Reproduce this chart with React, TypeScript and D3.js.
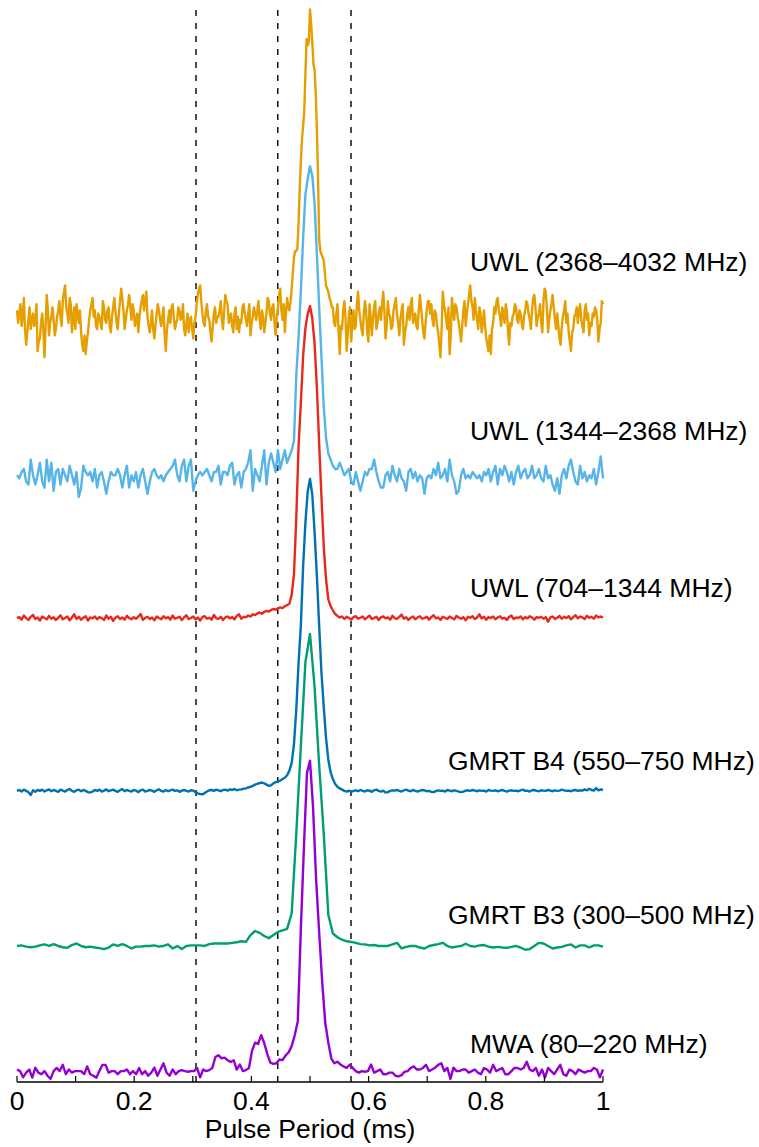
import React from "react";
import * as d3 from "d3";

const W = 759;
const H = 1147;

// Profile values, in percent of each profile's peak
const uwlHighVals = [
  2, -2, 1, 4, -3, 0, 6, -4, -9, -5, -1, 3, -4, -1, 1, -3, -1, 4, -11, -8,
  -7, -2, 1, -4, -13, -3, 7, 2, -6, -2, 0, 3, -1, -6, -4, 0, 2, 5, 0, -3,
  5, 8, 10, 3, 1, -2, 6, 4, -5, -1, 3, -4, 4, 1, -2, 2, -5, -9, -11, -6,
  -12, -8, -5, -1, 2, 4, 6, 0, 2, -3, -4, 1, 0, -2, -4, 5, 3, -1, -2, 2,
  3, -3, -5, 0, 3, 6, 2, -2, -4, 1, 5, 9, 6, 2, -4, -1, 2, 4, 7, 3,
  -1, 4, 2, -3, -1, 1, -5, 0, 3, 5, 7, 2, 5, 8, 0, -3, -5, -2, 2, -4,
  -7, -3, 1, 4, 2, -1, -3, 0, 3, -6, -11, -4, -1, 2, -2, 3, 4, 0, -4, -2,
  -1, 3, 2, -1, 0, 4, -4, -6, -2, 1, -5, -1, 0, -4, -7, -2, 0, 4, 7, 9,
  10, 5, 1, -2, -3, 2, 4, 0, -1, -5, -8, -3, 1, 3, -2, 0, 0, 2, 5, -1,
  -4, 2, 7, 5, 4, -2, -1, 1, -3, -5, 1, 3, -4, 0, -5, -1, -2, 3, 4, 1,
  -1, -3, 1, 4, -6, -2, 0, 3, 1, -1, 2, 5, -1, -4, 2, 0, -5, -2, 1, 6,
  5, 1, -1, 3, 4, -2, -6, 0, 3, 7, 9, 2, -1, 4, -5, 1, 6, 3, 2, 5,
  9, 14, 19, 21, 21, 22, 30, 41, 50, 57, 61, 66, 78, 89, 87, 88, 98.5, 94, 88, 81,
  79, 72, 60, 45, 25, 21, 20, 19, 18, 14, 10, 9, 8, 6, 5, 3, 3, -2, -3, 1,
  4, -5, -12, -3, -4, 2, 5, 0, -11, -6, 1, 3, -8, -2, 2, -4, -3, 4, 8, 2,
  -1, -4, -6, 1, 5, 2, -5, -8, 4, 0, -6, -1, 3, 5, -4, -2, 1, 3, -1, 4,
  8, 2, -7, -3, 5, 1, 0, -4, -3, 2, 4, 6, 1, -2, -6, -1, 2, 4, -9, -5,
  -3, 1, 3, -1, 4, 6, -2, 0, 1, -3, -4, 2, 7, 3, -1, -5, -7, -2, 2, 5,
  5, 1, 4, -1, -3, 2, 1, -3, -5, -9, -13, -4, 8, 4, 2, -1, -4, 3, -12, -6,
  6, 2, -1, 4, 3, 0, -2, -5, -8, -3, 2, 5, -3, 1, 4, 7, 10, 5, 3, -1,
  6, 2, -1, -4, 3, 1, -5, -2, 2, -3, -7, -9, -11, -6, -12, -4, -2, 3, 1, 5,
  6, 2, 0, -3, 3, 1, -2, 4, 2, -5, -9, -2, -3, 0, 1, 4, 3, -1, -2, 2,
  1, -2, -4, 0, 2, 5, 4, 1, -1, -4, 2, 6, 7, 3, -3, 0, 1, 4, -2, -5,
  5, 9, 8, 2, -5, -1, 2, 4, 7, 3, -1, -4, 1, -3, -7, -9, -3, 0, 2, 5,
  -2, 1, -5, -8, -11, -5, -4, 0, 1, 3, -2, 2, 4, -1, -3, -5, 2, 4, -1, 1,
  -6, -2, -3, 1, 0, 3, 2, -1, -8, -4, -2, 5,
  4,
];

const uwlMidVals = [
  1, 0, 2, 3, -1, -2, 6, 1, -2, 1,
  5, -1, -3, 6, -1, 5, -4, 2, 3, -2,
  3, 1, -1, 4, 1, -2, 2, -6, -3, 4,
  2, 1, 2, -1, 3, -3, 1, 2, -1, -5,
  -1, 2, 1, 1, 3, 1, -3, 1, 4, -3,
  1, -1, 2, -3, 1, 3, -1, -5, -1, 2,
  3, 1, 0, 1, -1, 1, 2, 3, 4, 6,
  1, -1, 4, 6, -1, 4, 6, -4, -1, 1,
  2, 1, 2, 3, 1, -1, 2, 2, 4, -2,
  2, 2, 1, 4, 5, -2, 1, 2, -3, 2,
  3, 5, 9, -4, 3, 1, -1, 4, 9, -2,
  5, 8, 5, 2, 9, 3, 6, 9, 5, 7,
  9, 12, 33, 45, 60, 77, 91, 96, 100, 97,
  88, 72, 55, 39, 23, 13, 8, 6, 4, 3,
  3, 5, 3, 1, 2, 3, -1, -2, 2, -1,
  -4, -1, 2, 1, 3, 3, 6, 2, -1, -3,
  -3, 1, 2, -1, 4, 1, -1, 3, 0, -1,
  -4, 2, 3, 0, 2, -1, 1, 0, -5, 0,
  1, 0, 3, 1, 5, 0, 1, 3, -1, 6,
  1, -1, -5, -4, 1, 3, 0, 1, 0, 2,
  1, 0, 1, -1, 2, 1, 3, -1, 2, 4,
  -2, 3, 1, 4, 2, -1, 2, -2, 2, 4,
  0, 2, 3, 0, 1, 4, 0, 1, 3, 0,
  -1, 4, 0, 1, -2, -4, 0, -5, 1, 3,
  0, 4, 6, 2, -1, -2, 4, 0, 2, -1,
  1, 0, 3, -2, 2, 7, 0,
];

const uwlLowVals = [
  0, 0.3, -0.5, 0.8, 0, -0.6, 0.4, 1, -0.3, 0.2,
  -0.8, 0.5, 0, -0.4, 0.7, -0.2, 0.3, -0.6, 0.1, 0.9,
  -0.4, 0, 0.5, -0.7, 0.2, 1.2, -0.3, 0.4, -0.5, 0.1,
  0.6, -0.8, 0.2, -0.1, 0.5, -0.4, 0.3, 0, -0.6, 0.8,
  -0.2, 0.4, -0.9, 0.1, 0.6, -0.3, 0.2, -0.5, 0.7, 0,
  -0.4, 0.3, -0.2, 0.5, 1.3, -0.6, 0.1, 0.4, -0.3, 0.2,
  -0.7, 0.5, 0, -0.4, 0.6, -0.1, 0.3, -0.5, 0.8, -0.2,
  0.1, 0.4, -0.6, 0.2, 0.9, -0.3, 0, 0.5, -0.4, 0.2,
  -0.8, 0.3, 0.6, -0.2, 0.1, -0.5, 1, 0, -0.3, 0.4,
  -0.6, 0.2, 0.5, -0.1, 0.3, -0.4, 0.7, 1.2, -0.2, 0.4,
  0.3, 0.8, 0.5, 1.2, 1.0, 1.5, 1.8, 1.4, 2.0, 2.3,
  2.1, 2.6, 2.9, 2.7, 3.1, 3.4, 3.2, 3.8, 4.2, 4.6,
  7.5, 14, 32, 55, 69, 84, 93, 97.5, 100, 96,
  88, 74, 56, 39, 23, 12.5, 6, 3.8, 2.5, 1.3,
  0.7, 0.2, 0.5, -0.3, 0.4, 0, -0.5, 0.3, 0.6, -0.2,
  0.1, 0.5, -0.4, 0.2, 0.8, -0.3, 0, 0.4, -0.6, 0.3,
  0.5, -0.1, 0.2, -0.5, 0.7, 0, -0.3, 0.4, 1.1, -0.2,
  0.3, -0.6, 0.1, 0.5, -0.4, 0.2, 0.6, -0.2, 0, 0.4,
  -0.5, 0.3, 0.9, -0.1, 0.2, -0.6, 0.4, 0.1, -0.3, 0.5,
  0, -0.4, 0.7, 0.2, -0.2, 0.3, -0.7, 0.4, 0.1, 0.6,
  -0.3, 0.2, 1.2, -0.1, 0.4, -0.5, 0.3, 0, 0.5, -0.4,
  0.2, 0.6, -0.2, 0.1, -0.6, 0.4, 0.8, -0.3, 0.2, 0,
  0.5, -0.4, 0.3, -0.1, 0.6, 0.2, -0.5, 0.3, 0.1, 0.4,
  -0.2, 0.3, -1.2, 0.2, 0.5, -0.3, 0.1, 0.7, -0.2, 0.4,
  0, 0.6, -0.4, 0.3, 0.9, -0.1, 0.5, 0.2, -0.3, 0.7,
  0.1, 0.4, -0.2, 0.8, 0.2, 0.5, 0.1,
];

const gmrtB4Vals = [
  0, 0.3, -0.2, 0.4, 0, -0.4, -1.3, 0.2, -0.3, 0.3,
  0, 0.4, -0.2, 0.2, 0.5, -0.1, 0.3, 0, -0.3, 0.4,
  0.1, -0.2, 0.3, 0.6, 0, -0.3, 0.2, 0.4, -0.1, 0.3,
  0, -0.4, -0.5, -0.2, 0.3, 0, 0.4, -0.2, 0.1, 0.5,
  -0.1, 0.2, 0.4, 0, -0.3, 0.2, 0.6, -0.1, 0.3, 0,
  -0.2, 0.3, 0.1, -0.4, 0.2, 0.4, -0.2, 0, 0.3, 0.1,
  -0.3, 0.2, 0.5, 0, -0.2, 0.3, -0.1, 0.2, 0.4, 0,
  0.2, -0.3, 0.1, 0.3, 0, -0.2, 0.2, 0.1, -0.4, -0.8,
  -1.0, -1.1, -0.7, -0.2, 0.2, 0.3, 0, 0.4, 0.2, -0.1,
  0.3, 0.4, 0.1, 0.5, 0.3, 0.6, 0.2, 0.4, 0.5, 0.7,
  0.8, 1.1, 1.3, 1.6, 2.0, 2.3, 2.5, 2.7, 2.4, 2.0,
  1.6, 1.8, 2.4, 2.8, 3.0, 3.3, 3.8, 4.2, 5.0, 6.5,
  9, 15, 26, 41, 53, 72, 86, 96, 100, 95,
  83, 69, 53, 38, 27, 17, 10, 6, 3.8, 2.2,
  1.3, 0.8, 0.4, 0, -0.2, 0.1, -0.3, 0, 0.2, -0.1,
  0.3, 0, -0.2, 0.2, 0.1, -0.3, 0.2, 0.4, 0, -0.2,
  0.1, -0.5, -0.4, 0, 0.2, 0.1, 0.3, 0, -0.2, 0.2,
  0.4, 0.1, -0.1, 0.3, 0, -0.2, 0.1, 0.3, 0.2, -0.1,
  0, -0.3, -0.4, -0.1, 0.2, 0, 0.1, -0.2, 0.3, 0.1,
  -0.1, 0.2, 0, -0.2, -0.4, -0.2, 0.1, 0.2, 0, 0.3,
  0.1, -0.1, 0.2, 0, 0.1, -0.2, 0.3, 0.1, 0, 0.2,
  -0.1, 0.1, 0.3, 0, -0.2, 0.1, 0.2, 0, 0.1, -0.1,
  0.2, 0.4, 0, 0.1, -0.2, 0.2, 0.3, 0, -0.1, 0.2,
  0.1, 0, 0.3, 0.1, -0.1, 0.2, 0, 0.1, 0.4, 0.2,
  0, 0.1, -0.1, 0.2, 0.3, 0, 0.2, 0.1, 0.5, 0.2,
  0.7, 0.3, 0.1, 0.9, 0.2, 0.5, 0.3,
];

const gmrtB3Vals = [
  0, 0.2, -0.2, -0.4, -0.2, 0.2, 0.5, 0, 0.6, 0,
  -0.4, -0.6, 0.3, 0.8, 0, -0.4, -0.2, -0.5, -0.7, -1,
  -0.5, 0.5, 0, 0.6, 0, -0.8, -0.2, -0.2, 0, 0,
  0.2, -0.2, 0, 0.5, -0.8, 0, -1, 0, 0.2, 0.2,
  0.2, 0, 0.6, 0.8, 0.8, 0.8, 0.8, 1, 1.2, 1.5,
  1.3, 3.5, 4.8, 4.2, 3.2, 2.5, 3.5, 4.5, 5, 5.5,
  10.5, 36, 64, 91, 100, 83, 58, 36, 10, 4,
  2.8, 2, 1.5, 1.3, 1, 0.6, 0.5, 0.2, 0.3, 0,
  0, 0, 0.5, 1, -0.8, -0.3, 0, 0, -0.5, -0.8,
  0, 0.3, 0.6, 1, 0, -0.5, -0.2, 0, 0.7, 0,
  -0.2, 0.2, 0.3, -0.2, -0.5, -0.3, -0.5, -0.6, -0.3, 0,
  -0.5, -1.2, -1, 0, 1, 0.8, 0, -0.8, -0.5, -0.3,
  0.2, 0.5, -0.5, 0.2, 0.2, -0.5, 0.2, 0.2, -0.2,
];

const mwaVals = [
  1, 0.5, -1.5, 0, 1, -1.6, 1.6, 0, -0.5, 0.5,
  -1, -2, 0.5, 1.5, 0.5, 2.5, -0.5, 1, 0, 0.5,
  0.5, 0.5, -0.5, 2, -0.5, -1, -1.6, 0.5, 2.5, 2.5,
  0, 0.5, 0.5, -0.5, 0.5, 0.5, 1, -0.5, 0.5, -0.5,
  1.5, -0.5, 0.5, -1, 0, 1.6, -1, 1, 3, 0,
  -1, 1, -0.5, 0.5, 0.8, 0.5, 0.3, 0.5, 0.5, 1.5,
  -1.5, 1, 0.5, 0.8, 1.5, 5, 5.6, 4.6, 4.8, 4,
  3.4, 4, 1, 2.6, 0.5, 0.8, 1.5, 7, 9.6, 9.2,
  12, 9.5, 6, 3.2, 2.8, 3, 4.2, 4, 5.5, 6.5,
  8.5, 12, 16.5, 46, 72, 96, 100, 85, 62, 45,
  29, 16, 9.6, 4.5, 3, 3.5, 2.6, 2, 1.5, 2.5,
  1.5, 0.5, 0, 0.5, 0.3, 0.5, 2.6, 0, 0.5, 1,
  -0.5, -0.5, 0, 0, -1, -1.2, -0.8, 0.3, 0.5, 1.5,
  2, 1, 1, 1.5, 2.5, 0.5, 1, 1.6, 2.5, 3,
  0.5, 1.5, -2, 1.6, 0.5, 0.5, 1, 1, 0, 0.5,
  1, 0, -0.5, 1.5, 1, 0, 2.5, 0.5, 1, 1.5,
  -0.5, -0.5, 0.5, 1.5, 1.5, 1, 1.5, 3.5, 1, 0.5,
  1.5, -1, 1, -1.6, 1.5, 0.5, -0.5, 1, 2.5, -0.5,
  -1, 1, 0.5, -0.5, 1, 0.5, 0, 0.5, 0.5, 1.5,
  1, -1.5, 1,
];

const seriesLabels = [
  "UWL (2368–4032 MHz)",
  "UWL (1344–2368 MHz)",
  "UWL (704–1344 MHz)",
  "GMRT B4 (550–750 MHz)",
  "GMRT B3 (300–500 MHz)",
  "MWA (80–220 MHz)",
];
const seriesValues = [uwlHighVals, uwlMidVals, uwlLowVals, gmrtB4Vals, gmrtB3Vals, mwaVals];
const seriesOffsets = [2.423, 1.905, 1.457, 0.903, 0.406, 0];
const seriesColors = ["#E69F00", "#56B4E9", "#E8281C", "#0072B2", "#009E73", "#9400D3"];
const labelX = [0.773, 0.773, 0.773, 0.7355, 0.7355, 0.773];
const labelY = [2.569, 2.028, 1.524, 0.97, 0.476, 0.063];

const tickValues = [0, 0.1, 0.2, 0.3, 0.4, 0.5, 0.6, 0.7, 0.8, 0.9, 1];
const tickLabelValues = [0, 0.2, 0.4, 0.6, 0.8, 1];
const tickLabels = ["0", "0.2", "0.4", "0.6", "0.8", "1"];
const dashedLines = [0.3055, 0.445, 0.57];
const xTitle = "Pulse Period (ms)";

const FONT = "'Liberation Sans', Arial, Helvetica, sans-serif";
const FS = 26.5;

export default function App() {
  const x = d3.scaleLinear().domain([0, 1]).range([17, 603]);
  const y = d3.scaleLinear().domain([-0.03, 3.406]).range([1082, 10]);
  const yAxis = y(-0.03);
  const yTop = y(3.406);

  return (
    <svg
      width={W}
      height={H}
      style={{ position: "absolute", left: 0, top: 0, background: "#fff" }}
    >
      {dashedLines.map((d, i) => (
        <line
          key={"d" + i}
          x1={x(d)}
          x2={x(d)}
          y1={yTop}
          y2={yAxis}
          stroke="#000"
          strokeWidth={1.4}
          strokeDasharray="6 7"
        />
      ))}
      {seriesValues.map((vals, si) => {
        const n = vals.length;
        const line = d3
          .line<number>()
          .x((_, i) => x(i / (n - 1)))
          .y((v) => y(seriesOffsets[si] + v / 100));
        return (
          <path
            key={"s" + si}
            d={line(vals) || ""}
            fill="none"
            stroke={seriesColors[si]}
            strokeWidth={2.4}
            strokeLinejoin="round"
          />
        );
      })}
      {seriesLabels.map((t, i) => (
        <text
          key={"l" + i}
          x={x(labelX[i])}
          y={y(labelY[i])}
          fontFamily={FONT}
          fontSize={FS}
          fill="#000"
        >
          {t}
        </text>
      ))}
      <line x1={x(0)} x2={x(1)} y1={yAxis} y2={yAxis} stroke="#000" strokeWidth={1.6} />
      {tickValues.map((t, i) => (
        <line
          key={"t" + i}
          x1={x(t)}
          x2={x(t)}
          y1={yAxis}
          y2={yAxis - 6}
          stroke="#000"
          strokeWidth={1.2}
        />
      ))}
      {tickLabelValues.map((t, i) => (
        <text
          key={"tl" + i}
          x={x(t)}
          y={1110}
          textAnchor="middle"
          fontFamily={FONT}
          fontSize={FS}
          fill="#000"
        >
          {tickLabels[i]}
        </text>
      ))}
      <text
        x={x(0.5)}
        y={1138}
        textAnchor="middle"
        fontFamily={FONT}
        fontSize={FS}
        fill="#000"
      >
        {xTitle}
      </text>
    </svg>
  );
}
